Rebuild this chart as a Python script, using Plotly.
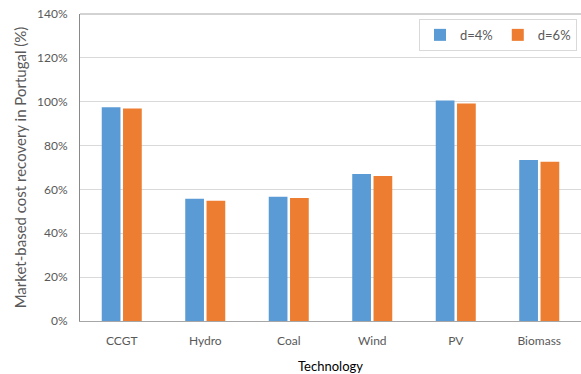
import plotly.graph_objects as go

technologies = ["CCGT", "Hydro", "Coal", "Wind", "PV", "Biomass"]
recovery_d4 = [97.5, 55.7, 56.7, 67.0, 100.6, 73.4]
recovery_d6 = [96.9, 54.8, 56.1, 66.1, 99.2, 72.6]

BLUE = "#5B9BD5"
ORANGE = "#ED7D31"
FONT = "Lato, Open Sans, sans-serif"

fig = go.Figure()
fig.add_trace(go.Bar(name="d=4%", x=technologies, y=recovery_d4,
                     marker=dict(color=BLUE, line=dict(width=0))))
fig.add_trace(go.Bar(name="d=6%", x=technologies, y=recovery_d6,
                     marker=dict(color=ORANGE, line=dict(width=0))))

# frame line along the top of the plotting area
fig.add_shape(type="line", xref="paper", yref="paper",
              x0=0, x1=1, y0=1, y1=1,
              line=dict(color="#A6A6A6", width=1))

fig.update_layout(
    width=581, height=374,
    margin=dict(l=80, r=0, t=14, b=53),
    paper_bgcolor="white", plot_bgcolor="white",
    barmode="group", bargap=0.49, bargroupgap=0.12,
    font=dict(family=FONT, size=12, color="#595959"),
    legend=dict(
        orientation="h", x=0.992, y=0.984, xanchor="right", yanchor="top",
        bordercolor="#D9D9D9", borderwidth=1, bgcolor="white",
        font=dict(size=13, color="#595959"),
        itemwidth=30, traceorder="normal",
    ),
    showlegend=True,
)
fig.update_xaxes(
    showline=True, linecolor="#A6A6A6", linewidth=1,
    ticks="outside", ticklen=9, tickcolor="rgba(0,0,0,0)",
    tickfont=dict(size=12, color="#595959"),
    title=dict(text="Technology", font=dict(size=13, color="#000000"), standoff=14),
)
fig.update_yaxes(
    range=[0, 140], dtick=20, ticksuffix="%",
    showline=True, linecolor="#898989", linewidth=1,
    showgrid=True, gridcolor="#D9D9D9", gridwidth=1,
    zeroline=False, ticks="outside", ticklen=9, tickcolor="rgba(0,0,0,0)",
    tickfont=dict(size=12, color="#595959"),
    title=dict(text="Market-based cost recovery in Portugal (%)",
               font=dict(size=15, color="#595959"), standoff=6),
)

fig.write_html("out.html")
